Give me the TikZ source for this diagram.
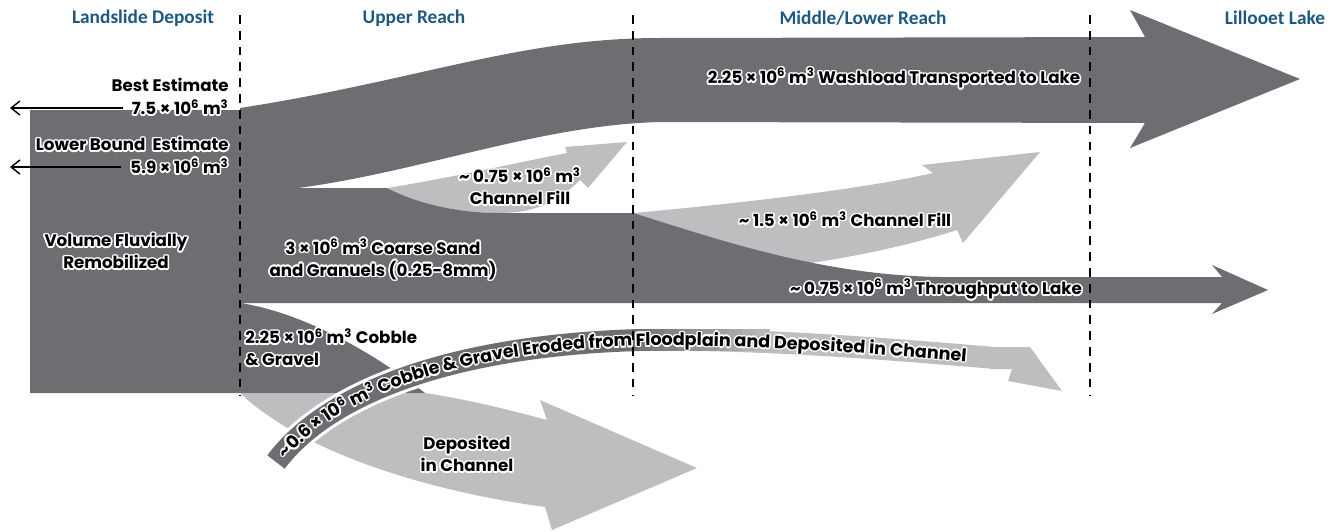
\documentclass[tikz,border=0pt]{standalone}
\usepackage{fontspec}
\usepackage{contour}
\usetikzlibrary{arrows.meta, decorations.text}
\newfontfamily\poppins{Poppins}
\newfontfamily\carlito{Carlito}
\definecolor{flowdark}{RGB}{109,110,113}
\definecolor{flowlight}{RGB}{188,190,192}
\definecolor{reachblue}{RGB}{28,88,128}
\contourlength{0.9pt}
\newcommand{\halo}[1]{\contour{white}{#1}}
\newcommand{\vol}[1]{× 10\textsuperscript{#1} m\textsuperscript{3}}
\newcommand{\bandfont}{\poppins\bfseries\fontsize{10}{11}\selectfont}
\tikzset{
    reach/.style={font=\carlito\bfseries\fontsize{11}{13}\selectfont, text=reachblue, inner sep=0pt},
    flowlabel/.style={font=\poppins\bfseries\fontsize{9.5}{12.5}\selectfont, inner sep=0pt, align=center},
    divider/.style={dash pattern=on 5pt off 4pt, line width=1.1pt},
}

\begin{document}
\begin{tikzpicture}[x=0.02cm, y=-0.02cm, >={Straight Barb[length=5pt,width=8pt]}]
    \useasboundingbox (0,0) rectangle (1332,531);

    % channel fill, upper reach
    \fill[flowlight] (387,188) .. controls (450,178) and (520,162) .. (567,153) -- (565,147) -- (627,142) -- (588,188) -- (580,180)
        .. controls (555,205) and (530,213) .. (500,213) .. controls (450,213) and (410,200) .. (387,188) -- cycle;
    % channel fill, middle reach
    \fill[flowlight] (633,213) .. controls (700,207) and (850,192) .. (933,173) -- (922,165) -- (1040,152) -- (963,243) -- (957,230)
        .. controls (880,255) and (760,275) .. (700,270) -- (633,240) -- cycle;

    % deposit, washload, sand and cobble in one dark body
    \fill[flowdark] (30,110) -- (240,110) -- (240,108) .. controls (420,80) and (520,38) .. (660,38) -- (1145,37) -- (1130,10)
        -- (1300,79) -- (1130,148) -- (1145,123) -- (660,122) .. controls (540,125) and (420,172) .. (298,188) -- (387,188)
        .. controls (410,200) and (450,213) .. (500,213) -- (633,213) .. controls (720,240) and (820,275) .. (940,277)
        -- (1222,277) -- (1212,265) -- (1268,290) -- (1212,314) -- (1222,303) -- (240,303)
        .. controls (300,312) and (370,350) .. (425,393) -- (30,393) -- cycle;

    % deposited in channel
    \fill[flowlight] (240,393) -- (425,393) .. controls (470,400) and (510,410) .. (547,420) -- (540,400) -- (697,468)
        -- (552,530) -- (545,507) .. controls (420,490) and (300,450) .. (240,393) -- cycle;

    % eroded cobble band
    \draw[white, line width=16pt] (276,462) .. controls (330,390) and (460,345) .. (640,340);
    \draw[flowdark, line width=12.5pt] (276,462) .. controls (330,390) and (460,345) .. (640,340);
    \draw[flowlight, line width=12.5pt] (639,340) .. controls (760,338) and (900,350) .. (995,358);
    \fill[flowlight] (990,347) -- (1030,347) -- (1062,391) -- (1008,381) -- (1012,369) -- (990,369) -- cycle;
    \foreach \i [evaluate=\i as \mix using 90-9*\i] in {0,...,9}
        \draw[flowdark!\mix!flowlight, line width=12.5pt] ({638+13*\i},340) -- ({653+13*\i},340);
    \foreach \dx/\dy/\col in {0.9/0/white, -0.9/0/white, 0/0.9/white, 0/-0.9/white, 0.64/0.64/white, -0.64/0.64/white, 0.64/-0.64/white, -0.64/-0.64/white, 0/0/black}
        \path[shift={(\dx pt,\dy pt)}, decorate, decoration={text along path, text align={left, left indent=5pt}, raise=-3.4pt, text color=\col,
            text={|\bandfont|{\textasciitilde}0.6 × 10{\textsuperscript{6}} m{\textsuperscript{3}} Cobble {\&} Gravel Eroded from Floodplain and Deposited in Channel}}]
            (276,462) .. controls (330,390) and (460,345) .. (640,340) .. controls (760,338) and (900,350) .. (995,358);

    % reach dividers
    \draw[divider] (240,15) -- (240,396);
    \draw[divider] (633,15) -- (633,396);
    \draw[divider] (1090,15) -- (1090,396);

    % reach headings
    \node[reach] (hdep) at (143,18) {Landslide Deposit};
    \node[reach] (hup) at (414,18) {Upper Reach};
    \node[reach] (hmid) at (863,18) {Middle/Lower Reach};
    \node[reach] (hlake) at (1275,18) {Lillooet Lake};

    % estimates
    \node[flowlabel, anchor=east] (best) at (229,86) {\halo{Best Estimate}};
    \node[flowlabel, anchor=east] (bestval) at (229,108) {\halo{7.5 \vol{6}}};
    \node[flowlabel, anchor=east] (low) at (229,145) {\halo{Lower Bound\ \ Estimate}};
    \node[flowlabel, anchor=east] (lowval) at (229,167) {\halo{5.9 \vol{6}}};
    \coordinate (bestend) at (10,108);
    \coordinate (lowend) at (10,167);
    \draw[->, line width=0.8pt] ([xshift=-5pt]bestval.west) -- (bestend);
    \draw[->, line width=0.8pt] ([xshift=-5pt]lowval.west) -- (lowend);

    % flow labels
    \node[flowlabel] (remob) at (116,252) {\halo{Volume Fluvially}\\\halo{Remobilized}};
    \node[flowlabel] (wash) at (894,79) {\halo{2.25 \vol{6} Washload Transported to Lake}};
    \node[flowlabel] (fillup) at (520,187) {\halo{\textasciitilde{} 0.75 \vol{6}}\\\halo{Channel Fill}};
    \node[flowlabel] (sand) at (383,260) {\halo{3 \vol{6} Coarse Sand}\\\halo{and Granuels (0.25-8mm)}};
    \node[flowlabel] (fillmid) at (845,220) {\halo{\textasciitilde{} 1.5 \vol{6} Channel Fill}};
    \node[flowlabel] (thru) at (936,290) {\halo{\textasciitilde{} 0.75 \vol{6} Throughput to Lake}};
    \node[flowlabel, anchor=west, align=left] (cobble) at (245,348) {\halo{2.25 \vol{6} Cobble}\\\halo{\& Gravel}};
    \node[flowlabel] (dep) at (467,455) {\halo{Deposited}\\\halo{in Channel}};
\end{tikzpicture}
\end{document}
